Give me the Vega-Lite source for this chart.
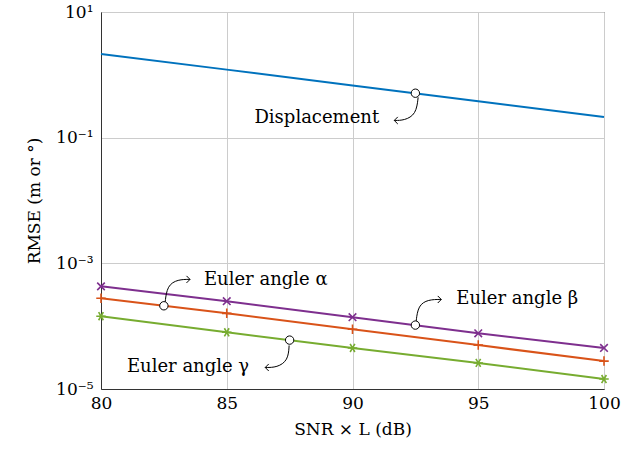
{
  "$schema": "https://vega.github.io/schema/vega-lite/v6.json",
  "width": 503,
  "height": 377,
  "autosize": {"type": "none"},
  "padding": {"left": 101, "top": 12, "right": 18, "bottom": 63},
  "background": "white",
  "config": {
    "view": {"stroke": "#333333", "strokeWidth": 1},
    "font": "DejaVu Serif",
    "axis": {
      "labelFont": "DejaVu Serif",
      "titleFont": "DejaVu Serif",
      "labelFontSize": 17,
      "titleFontSize": 17,
      "titleFontWeight": "normal",
      "labelColor": "black",
      "titleColor": "black",
      "gridColor": "#cccccc",
      "gridWidth": 1,
      "domainColor": "#333333",
      "ticks": false
    }
  },
  "datasets": {
    "lines": [
      {"series": "Displacement", "x": 80, "y": 2.15},
      {"series": "Displacement", "x": 85, "y": 1.21},
      {"series": "Displacement", "x": 90, "y": 0.676},
      {"series": "Displacement", "x": 95, "y": 0.379},
      {"series": "Displacement", "x": 100, "y": 0.213},
      {"series": "alpha", "x": 80, "y": 0.00043},
      {"series": "alpha", "x": 85, "y": 0.00025},
      {"series": "alpha", "x": 90, "y": 0.000139},
      {"series": "alpha", "x": 95, "y": 0.000077},
      {"series": "alpha", "x": 100, "y": 0.000045},
      {"series": "beta", "x": 80, "y": 0.000278},
      {"series": "beta", "x": 85, "y": 0.00016},
      {"series": "beta", "x": 90, "y": 0.0000895},
      {"series": "beta", "x": 95, "y": 0.00005},
      {"series": "beta", "x": 100, "y": 0.0000278},
      {"series": "gamma", "x": 80, "y": 0.000144},
      {"series": "gamma", "x": 85, "y": 0.00008},
      {"series": "gamma", "x": 90, "y": 0.000045},
      {"series": "gamma", "x": 95, "y": 0.000026},
      {"series": "gamma", "x": 100, "y": 0.0000144}
    ],
    "circles": [
      {"x": 92.5, "y": 0.51},
      {"x": 82.5, "y": 0.000211},
      {"x": 92.5, "y": 0.000104},
      {"x": 87.5, "y": 0.00006}
    ],
    "labels": [
      {"x": 88.58, "y": 0.203, "text": "Displacement"},
      {"x": 86.55, "y": 0.000535, "text": "Euler angle α"},
      {"x": 96.55, "y": 0.000266, "text": "Euler angle β"},
      {"x": 83.46, "y": 0.000022, "text": "Euler angle γ"}
    ],
    "arrows": [
      {"id": "d", "o": 1, "x": 92.61, "y": 0.438},
      {"id": "d", "o": 2, "x": 92.53, "y": 0.235},
      {"id": "d", "o": 3, "x": 92.06, "y": 0.188},
      {"id": "d", "o": 4, "x": 91.66, "y": 0.188},
      {"id": "a", "o": 1, "x": 82.55, "y": 0.000239},
      {"id": "a", "o": 2, "x": 82.63, "y": 0.000445},
      {"id": "a", "o": 3, "x": 83.06, "y": 0.000555},
      {"id": "a", "o": 4, "x": 83.54, "y": 0.000555},
      {"id": "b", "o": 1, "x": 92.53, "y": 0.000119},
      {"id": "b", "o": 2, "x": 92.61, "y": 0.000214},
      {"id": "b", "o": 3, "x": 93.01, "y": 0.000266},
      {"id": "b", "o": 4, "x": 93.53, "y": 0.000266},
      {"id": "g", "o": 1, "x": 87.48, "y": 0.0000493},
      {"id": "g", "o": 2, "x": 87.44, "y": 0.0000285},
      {"id": "g", "o": 3, "x": 87.0, "y": 0.000022},
      {"id": "g", "o": 4, "x": 86.53, "y": 0.000022}
    ],
    "heads": [
      {"dir": "left", "x": 91.66, "y": 0.188},
      {"dir": "right", "x": 83.54, "y": 0.000555},
      {"dir": "right", "x": 93.53, "y": 0.000266},
      {"dir": "left", "x": 86.53, "y": 0.000022}
    ]
  },
  "encoding": {
    "x": {
      "field": "x",
      "type": "quantitative",
      "scale": {"domain": [80, 100], "nice": false, "zero": false},
      "axis": {"values": [80, 85, 90, 95, 100], "title": "SNR × L (dB)", "labelPadding": 6, "titlePadding": 10, "labelFlush": false}
    },
    "y": {
      "field": "y",
      "type": "quantitative",
      "scale": {"type": "log", "domain": [0.00001, 10], "nice": false},
      "axis": {
        "values": [0.00001, 0.001, 0.1, 10],
        "title": "RMSE (m or °)",
        "labelExpr": "datum.value >= 1 ? '10¹' : datum.value >= 0.01 ? '10⁻¹' : datum.value >= 0.0001 ? '10⁻³' : '10⁻⁵'",
        "labelPadding": 8,
        "titlePadding": 12,
        "labelFlush": false
      }
    }
  },
  "resolve": {"scale": {"shape": "independent"}},
  "layer": [
    {
      "data": {"name": "lines"},
      "mark": {"type": "line", "strokeWidth": 2},
      "encoding": {
        "color": {
          "field": "series",
          "type": "nominal",
          "scale": {"domain": ["Displacement", "alpha", "beta", "gamma"], "range": ["#0072BD", "#7E2F8E", "#D95319", "#77AC30"]},
          "legend": null
        }
      }
    },
    {
      "data": {"name": "lines"},
      "transform": [{"filter": "datum.series != 'Displacement'"}],
      "mark": {"type": "point", "filled": false, "strokeWidth": 1.6, "size": 90, "opacity": 1},
      "encoding": {
        "color": {
          "field": "series",
          "type": "nominal",
          "scale": {"domain": ["Displacement", "alpha", "beta", "gamma"], "range": ["#0072BD", "#7E2F8E", "#D95319", "#77AC30"]},
          "legend": null
        },
        "shape": {
          "field": "series",
          "type": "nominal",
          "scale": {"domain": ["alpha", "beta", "gamma"], "range": ["M-0.8,-0.8L0.8,0.8M-0.8,0.8L0.8,-0.8", "M-1,0L1,0M0,-1L0,1", "M-1,0L1,0M-0.5,-0.85L0.5,0.85M-0.5,0.85L0.5,-0.85"]},
          "legend": null
        }
      }
    },
    {
      "data": {"name": "arrows"},
      "mark": {"type": "line", "interpolate": "basis", "color": "black", "strokeWidth": 1},
      "encoding": {
        "detail": {"field": "id", "type": "nominal"},
        "order": {"field": "o", "type": "quantitative"}
      }
    },
    {
      "data": {"name": "heads"},
      "mark": {"type": "point", "filled": false, "color": "black", "strokeWidth": 1, "size": 50, "opacity": 1},
      "encoding": {
        "shape": {
          "field": "dir",
          "type": "nominal",
          "scale": {"domain": ["left", "right"], "range": ["M1,-1L0,0L1,1", "M-1,-1L0,0L-1,1"]},
          "legend": null
        }
      }
    },
    {
      "data": {"name": "circles"},
      "mark": {"type": "point", "shape": "circle", "filled": true, "fill": "white", "stroke": "black", "strokeWidth": 1, "size": 70, "opacity": 1}
    },
    {
      "data": {"name": "labels"},
      "mark": {"type": "text", "font": "DejaVu Serif", "fontSize": 18, "color": "black", "align": "center", "baseline": "middle"},
      "encoding": {"text": {"field": "text"}}
    }
  ]
}
